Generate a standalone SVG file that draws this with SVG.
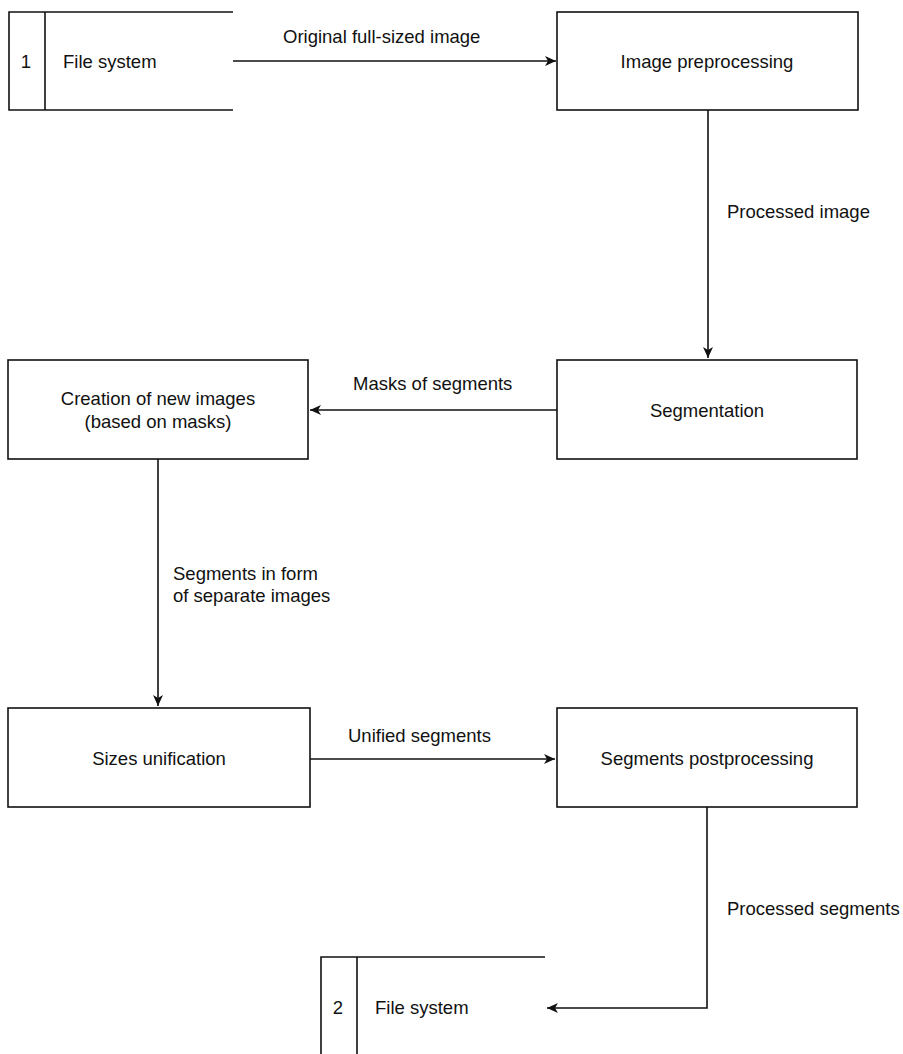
<svg xmlns="http://www.w3.org/2000/svg" width="903" height="1054" viewBox="0 0 903 1054">
<style>
.box{fill:#fff;stroke:#111;stroke-width:1.6}
.ds{fill:none;stroke:#111;stroke-width:1.6}
.t{font-family:"Liberation Sans",Arial,sans-serif;font-size:18.5px;fill:#111}
.c{text-anchor:middle}
.conn{fill:none;stroke:#111;stroke-width:1.6}
</style>
<defs>
<marker id="arr" markerWidth="12" markerHeight="10" refX="11" refY="5" orient="auto" markerUnits="userSpaceOnUse">
<path d="M0,0 L11,5 L0,10 L3,5 Z" fill="#111"/>
</marker>
</defs>
<rect width="903" height="1054" fill="#fff"/>
<g id="connectors">
<line class="conn" x1="233" y1="61" x2="556" y2="61" marker-end="url(#arr)"/>
<text class="t" x="283" y="43">Original full-sized image</text>
<line class="conn" x1="708" y1="110" x2="708" y2="358" marker-end="url(#arr)"/>
<text class="t" x="727" y="218">Processed image</text>
<line class="conn" x1="557" y1="410" x2="310" y2="410" marker-end="url(#arr)"/>
<text class="t" x="353" y="390">Masks of segments</text>
<line class="conn" x1="158" y1="459" x2="158" y2="706" marker-end="url(#arr)"/>
<text class="t" x="173" y="580">Segments in form</text>
<text class="t" x="173" y="602">of separate images</text>
<line class="conn" x1="310" y1="759" x2="555" y2="759" marker-end="url(#arr)"/>
<text class="t" x="348" y="742">Unified segments</text>
<polyline class="conn" points="707,807 707,1008 547,1008" marker-end="url(#arr)"/>
<text class="t" x="727" y="915">Processed segments</text>
</g>
<g id="ds1">
<path class="ds" d="M233,12 H9 V110 H233 M45,12 V110"/>
<text class="t c" x="26" y="68">1</text>
<text class="t" x="63" y="68">File system</text>
</g>
<g id="n-preprocessing">
<rect class="box" x="557" y="12" width="301" height="98"/>
<text class="t c" x="707" y="68">Image preprocessing</text>
</g>
<g id="n-segmentation">
<rect class="box" x="557" y="360" width="300" height="99"/>
<text class="t c" x="707" y="417">Segmentation</text>
</g>
<g id="n-creation">
<rect class="box" x="8" y="360" width="300" height="99"/>
<text class="t c" x="158" y="405">Creation of new images</text>
<text class="t c" x="158" y="428">(based on masks)</text>
</g>
<g id="n-sizes">
<rect class="box" x="8" y="708" width="302" height="99"/>
<text class="t c" x="159" y="765">Sizes unification</text>
</g>
<g id="n-postprocessing">
<rect class="box" x="557" y="708" width="300" height="99"/>
<text class="t c" x="707" y="765">Segments postprocessing</text>
</g>
<g id="ds2">
<path class="ds" d="M545,957 H321 V1054 M357,957 V1054"/>
<text class="t c" x="338" y="1014">2</text>
<text class="t" x="375" y="1014">File system</text>
</g>
</svg>
